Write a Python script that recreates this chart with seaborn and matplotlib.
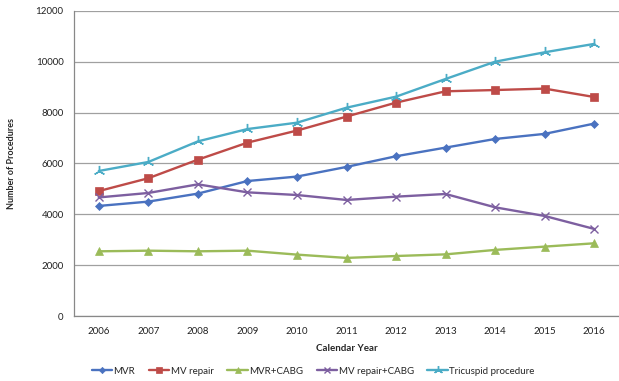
import matplotlib
matplotlib.use("Agg")
import matplotlib.pyplot as plt
import seaborn as sns
import pandas as pd
import numpy as np

years = [2006, 2007, 2008, 2009, 2010, 2011, 2012, 2013, 2014, 2015, 2016]
mvr = [4330, 4500, 4815, 5310, 5485, 5865, 6285, 6625, 6965, 7165, 7570]
mv_repair = [4915, 5420, 6150, 6820, 7295, 7845, 8395, 8840, 8890, 8945, 8615]
mvr_cabg = [2545, 2570, 2545, 2570, 2415, 2285, 2360, 2425, 2600, 2730, 2860]
mv_repair_cabg = [4665, 4840, 5180, 4865, 4760, 4565, 4695, 4800, 4275, 3935, 3425]
tricuspid = [5705, 6060, 6870, 7355, 7605, 8195, 8630, 9325, 10005, 10375, 10705]

series_names = ["MVR", "MV repair", "MVR+CABG", "MV repair+CABG", "Tricuspid procedure"]
series_values = [mvr, mv_repair, mvr_cabg, mv_repair_cabg, tricuspid]
colors = ["#4A72C0", "#BE4B48", "#9BBB59", "#7D5FA0", "#4BACC6"]
markers = ["D", "s", "^", "x", (3, 2, 0)]
marker_sizes = [4, 6, 6, 6, 8]

sns.set_style("white")
plt.rcParams["font.family"] = ["Lato", "DejaVu Sans"]

fig = plt.figure(figsize=(6.19, 3.81), dpi=100)
ax = fig.add_axes([0.1196, 0.1706, 0.8804, 0.8006])

for name, vals, c, m, ms in zip(series_names, series_values, colors, markers, marker_sizes):
    df = pd.DataFrame({"year": years, "value": vals})
    thin_marker = m == "x" or isinstance(m, tuple)
    sns.lineplot(data=df, x="year", y="value", ax=ax, color=c, marker=m,
                 markersize=ms, linewidth=1.7, label=name,
                 markeredgecolor=c, markeredgewidth=1.0 if thin_marker else 0.5)

ax.set_xlim(years[0] - 0.5, years[-1] + 0.5)
ax.set_ylim(0, 12000)
ax.set_yticks(np.arange(0, 12001, 2000))
ax.set_xticks(years)
ax.set_xticks(np.arange(years[0] - 0.5, years[-1] + 0.6, 1), minor=True)
ax.tick_params(axis="x", which="major", length=0, labelsize=7, pad=8, colors="#222222")
ax.tick_params(axis="x", which="minor", length=4, width=0.8, color="#888888", direction="out")
ax.tick_params(axis="y", which="major", length=4, width=0.8, labelsize=7,
               labelcolor="#222222", color="#888888", direction="out")
ax.grid(axis="y", color="#A0A0A0", linewidth=0.9)
ax.set_axisbelow(True)

for side in ("top", "right"):
    ax.spines[side].set_visible(False)
for side in ("left", "bottom"):
    ax.spines[side].set_color("#888888")
    ax.spines[side].set_linewidth(0.9)

ax.set_xlabel("Calendar Year", fontsize=7, fontweight="bold", labelpad=6)
ax.set_ylabel("Number of Procedures", fontsize=6.5, fontweight="bold", labelpad=14)

ax.legend_.remove()
handles, labels = ax.get_legend_handles_labels()
fig.legend(handles, labels, loc="center", bbox_to_anchor=(0.506, 0.026), ncol=5,
           frameon=False, fontsize=7, handlelength=2.1, columnspacing=1.4,
           handletextpad=0.15, markerscale=0.8)

fig.savefig("out.png", dpi=100)
